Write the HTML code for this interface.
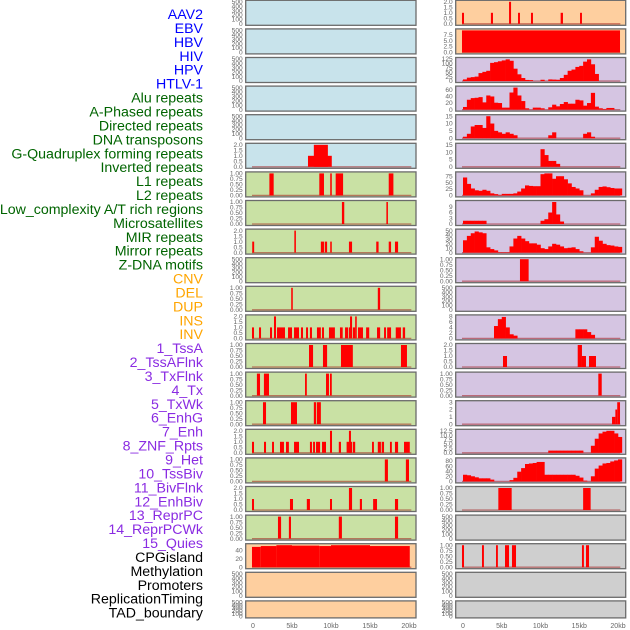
<!DOCTYPE html>
<html><head><meta charset="utf-8">
<style>
html,body{margin:0;padding:0;background:#fff;}
svg{display:block;font-family:"Liberation Sans",sans-serif;}
</style></head>
<body>
<svg id="chart" width="630" height="630" viewBox="0 0 630 630" xmlns="http://www.w3.org/2000/svg"></svg>
<script>
// ---------- data ----------
const trackLabels = ["AAV2","EBV","HBV","HIV","HPV","HTLV-1","Alu repeats","A-Phased repeats","Directed repeats","DNA transposons","G-Quadruplex forming repeats","Inverted repeats","L1 repeats","L2 repeats","Low_complexity A/T rich regions","Microsatellites","MIR repeats","Mirror repeats","Z-DNA motifs","CNV","DEL","DUP","INS","INV","1_TssA","2_TssAFlnk","3_TxFlnk","4_Tx","5_TxWk","6_EnhG","7_Enh","8_ZNF_Rpts","9_Het","10_TssBiv","11_BivFlnk","12_EnhBiv","13_ReprPC","14_ReprPCWk","15_Quies","CPGisland","Methylation","Promoters","ReplicationTiming","TAD_boundary"];
const labelGroups = [0,0,0,0,0,0,1,1,1,1,1,1,1,1,1,1,1,1,1,2,2,2,2,2,3,3,3,3,3,3,3,3,3,3,3,3,3,3,3,4,4,4,4,4];
const xTickValues = [0,5,10,15,20];
const xTickLabels = ["0","5kb","10kb","15kb","20kb"];

const ticksEmpty = ["0","100","200","300","400","500"];
const ticks2 = ["0.0","0.5","1.0","1.5","2.0"];
const ticks1 = ["0.00","0.25","0.50","0.75","1.00"];

// segment data: [startKb, endKb, value]
const segL05 = [[7.05,10.1,1],[7.8,9.6,2]];
const segL06 = [[2.1,2.65,1],[8.5,9.1,1],[9.9,10.1,1],[10.6,11.55,1],[17.4,18.0,1]];
const segL07 = [[11.4,11.7,1],[17.1,17.3,1]];
const segL08 = [[-0.1,0.15,1],[5.3,5.5,2],[8.7,9.1,1],[9.2,9.5,1],[9.9,10.1,1],[12.3,12.7,1],[15.8,16.1,1],[17.4,17.7,1],[18.2,18.6,1]];
const segL10 = [[4.9,5.1,1],[16.0,16.3,1]];
const segL11 = [[-0.13,0.13,1],[0.77,1.03,1],[2.18,2.44,1],[2.69,2.95,2],[3.08,4.1,1],[4.49,5.0,1],[5.26,5.9,1],[6.15,6.41,1],[6.8,7.05,1],[7.3,7.56,1],[8.2,8.7,1],[8.85,9.1,1],[9.74,10.5,1],[11.15,11.5,1],[11.8,12.2,1],[12.3,12.44,1],[12.44,12.7,2],[12.8,13.1,1],[13.1,13.3,2],[13.46,14.1,1],[14.5,14.9,1],[15.9,16.3,1],[16.8,17.05,1],[17.2,17.7,1],[18.3,18.97,1],[19.2,19.5,1]];
const segL12 = [[7.18,7.7,1],[8.97,9.5,1],[11.28,12.8,1],[18.97,19.74,1]];
const segL13 = [[0.5,0.9,1],[1.4,2.05,1],[6.67,6.9,1],[9.36,9.74,1],[9.87,10.1,1]];
const segL14 = [[1.28,1.67,1],[4.87,5.64,1],[7.8,8.1,1],[8.2,8.7,1]];
const segL15 = [[-0.13,0.13,1],[1.41,1.67,1],[2.44,2.69,1],[3.46,3.97,1],[4.23,4.6,1],[5.26,5.9,1],[7.3,7.56,1],[7.7,7.95,1],[8.08,8.6,1],[8.85,9.36,1],[9.87,10.13,2],[11.0,11.28,1],[12.0,12.7,1],[12.3,12.56,2],[12.8,13.1,1],[15.26,15.5,1],[16.0,16.4,1],[16.5,16.8,1],[17.56,17.8,1],[18.2,18.6,1],[19.36,20.1,1]];
const segL16 = [[16.9,17.3,1],[19.6,20.0,1]];
const segL17 = [[-0.13,0.13,1],[4.74,5.13,1],[6.9,7.3,1],[9.87,10.13,1],[12.3,12.7,2],[13.7,13.97,1],[15.4,15.9,1],[18.2,18.6,1]];
const segL18 = [[3.2,3.6,1],[4.6,4.87,1],[11.0,11.4,1],[18.2,18.6,1]];
const segL19 = [[-0.13,1,48],[1,3,50],[3,5,52],[5,8.5,51],[8.5,10,50],[10,15,52],[15,20.1,50]];

const segR00 = [[-0.13,0.13,1],[3.6,3.87,1],[5.94,6.2,2],[7.1,7.35,1],[8.77,9.03,1],[12.6,12.9,1],[15.1,15.35,1]];
const segR01 = [[-0.13,20.26,9.3]];
const segR09 = [[7.35,8.47,1]];
const segR12 = [[5.16,5.68,1],[14.8,15.35,2],[15.35,15.87,1],[16.26,17.16,1]];
const segR13 = [[17.46,17.9,1]];
const segR14 = [[19.23,19.66,1],[19.66,19.9,2],[19.9,20.26,3]];
const segR17 = [[4.56,6.28,1],[15.5,16.47,1]];
const segR19 = [[-0.13,0.13,1],[2.45,2.7,1],[4.26,4.5,1],[5.42,5.94,1],[6.32,6.84,1],[15.35,15.6,1],[15.87,16.26,1]];

// binned data: 0.5 kb bins starting at 0 kb
const binR02 = [9,19,22,25,45,52,58,103,107,112,117,123,115,70,38,17,6,5,0,0,7,0,9,8,7,17,35,58,65,80,86,110,123,95,40,0,0,0,0,0,0];
const binR03 = [8,30,35,36,38,22,43,40,21,20,6,6,52,67,43,26,4,0,6,6,4,0,7,15,10,17,23,18,18,30,28,12,20,51,9,4,2,5,5,0,0];
const binR04 = [1,3,8,9,9,7,15,10,5,4,3,4,3,2,0,0,0,0,0,0,0,0,2,4,0,0,0,0,0,0,0,3,4,1,0,0,0,0,0,0,0];
const binR05 = [0,0,0,0,0,0,0,0,0,0,0,0,0,0,0,0,0,0,0,0,12,8,4,4,2,0,0,0,0,0,0,0,0,0,0,0,0,0,0,0,0];
const binR06 = [70,45,27,20,18,22,18,8,5,2,6,6,6,8,15,27,39,37,36,36,83,86,86,65,75,75,63,47,33,27,20,0,0,8,22,33,35,32,29,27,27];
const binR07 = [1.7,1.7,1.7,1.7,1.7,1.7,0,0,0,0,0,0,0,0,0,0,0,0,0,0,1.7,2.5,6,11.5,5,1.3,0,0,0,0,0,0,0,0,0,0,0,0,0,0,0];
const binR08 = [28,38,44,48,46,44,12,8,5,1,1,1,14,32,38,32,26,21,21,18,10,8,14,20,18,14,10,11,12,8,3,0,0,12,36,27,20,17,16,14,13];
const binR11 = [0,0,0,0,0,0,0,0,4.5,7,7.8,4,1.5,1,0,0,0,0,0,0,0,0,0,0,0,0,0,0,0,3.3,3.3,3.3,2.3,1.3,0,0,0,0,0,0,0];
const binR15 = [0,0,0,0,0,0,0,0,0,0,0,0,0,0,0,0,0,0,0,0,0,0,1.25,1.25,1.25,1.25,1.25,1.25,1.25,1.25,1.25,0,0,4,8,11,12,12.5,12.5,11,9];
const binR16 = [26,24,20,16,12,12,12,7,0,0,0,0,5,14,38,52,68,70,72,76,76,26,26,26,26,26,26,26,26,22,15,3,0,20,50,62,70,72,78,82,86];

// ---------- layout / style config ----------
const colLeft = [245.7, 455.7], colRight = [416, 625.7];
const xOrigin = [253, 463], xPerKb = [7.8, 7.75];
const rowPitch = 28.6, rowH = 25, lastRowH = 17;
const bgColors = {blue:"#c8e3eb", green:"#c9e1a4", orange:"#fecf9f", purple:"#d5c5e2", gray:"#cfcfcf"};
const labelColors = ["#0000ff","#006400","#ffa500","#8a2be2","#000000"];

// panels: [column, row, bg, ticks, kind, data]
const panels = [
 [0,0,"blue",ticksEmpty,"empty",null],[0,1,"blue",ticksEmpty,"empty",null],[0,2,"blue",ticksEmpty,"empty",null],
 [0,3,"blue",ticksEmpty,"empty",null],[0,4,"blue",ticksEmpty,"empty",null],[0,5,"blue",ticks2,"seg",segL05],
 [0,6,"green",ticks1,"seg",segL06],[0,7,"green",ticks1,"seg",segL07],[0,8,"green",ticks2,"seg",segL08],
 [0,9,"green",ticksEmpty,"empty",null],[0,10,"green",ticks1,"seg",segL10],[0,11,"green",ticks2,"seg",segL11],
 [0,12,"green",ticks1,"seg",segL12],[0,13,"green",ticks1,"seg",segL13],[0,14,"green",ticks1,"seg",segL14],
 [0,15,"green",ticks2,"seg",segL15],[0,16,"green",ticks1,"seg",segL16],[0,17,"green",ticks2,"seg",segL17],
 [0,18,"green",ticks1,"seg",segL18],[0,19,"orange",["0","20","40"],"seg",segL19],
 [0,20,"orange",ticksEmpty,"empty",null],[0,21,"orange",ticksEmpty,"empty",null],
 [1,0,"orange",ticks2,"seg",segR00],[1,1,"orange",["0.0","2.5","5.0","7.5"],"seg",segR01],
 [1,2,"purple",["0","25","50","75","100","125"],"bin",binR02],[1,3,"purple",["0","20","40","60"],"bin",binR03],
 [1,4,"purple",["0","5","10","15"],"bin",binR04],[1,5,"purple",["0","5","10","15"],"bin",binR05],
 [1,6,"purple",["0","25","50","75"],"bin",binR06],[1,7,"purple",["0","3","6","9"],"bin",binR07],
 [1,8,"purple",["0","10","20","30","40","50"],"bin",binR08],[1,9,"purple",ticks1,"seg",segR09],
 [1,10,"purple",ticksEmpty,"empty",null],[1,11,"purple",["0","2","4","6","8"],"bin",binR11],
 [1,12,"purple",ticks2,"seg",segR12],[1,13,"purple",ticks1,"seg",segR13],
 [1,14,"purple",["0","1","2","3"],"seg",segR14],[1,15,"purple",["0.0","2.5","5.0","7.5","10.0","12.5"],"bin",binR15],
 [1,16,"purple",["0","20","40","60","80"],"bin",binR16],[1,17,"gray",ticks1,"seg",segR17],
 [1,18,"gray",ticksEmpty,"empty",null],[1,19,"gray",ticks1,"seg",segR19],
 [1,20,"gray",ticksEmpty,"empty",null],[1,21,"gray",ticksEmpty,"empty",null]
];

// ---------- drawing ----------
const NS = "http://www.w3.org/2000/svg";
const svg = document.getElementById("chart");
function mk(tag, attrs, parent) {
  const e = document.createElementNS(NS, tag);
  for (const k in attrs) e.setAttribute(k, attrs[k]);
  (parent || svg).appendChild(e);
  return e;
}
function xScale(col, kb) { return xOrigin[col] + xPerKb[col] * kb; }

// track labels
trackLabels.forEach((t, i) => {
  const el = mk("text", {x: 203, y: 15.3 + 13.92 * i, "text-anchor": "end", "dominant-baseline": "middle", "font-size": 14.2, fill: labelColors[labelGroups[i]]});
  
  
  el.textContent = t;
});

panels.forEach(p => {
  const [col, row, bg, ticks, kind, data] = p;
  const top = 0.3 + rowPitch * row;
  const h = row === 21 ? lastRowH : rowH;
  const x0 = colLeft[col], x1 = colRight[col];
  const g = mk("g", {});
  
  
  const bgRect = mk("rect", {x: x0, y: top, width: x1 - x0, height: h, fill: bgColors[bg], stroke: "#6b6b6b", "stroke-width": 1.3}, g);
  
  
  const dTop = top + 1.5, dBot = top + h - 1.5;
  const tickNums = ticks.map(Number);
  let maxVal = tickNums[tickNums.length - 1];
  if (kind === "seg") data.forEach(s => { if (s[2] > maxVal) maxVal = s[2]; });
  if (kind === "bin") data.forEach(v => { if (v > maxVal) maxVal = v; });
  const yS = v => dBot - v / maxVal * (dBot - dTop);
  ticks.forEach((t, i) => {
    const tl = mk("text", {x: x0 - 3, y: yS(tickNums[i]) + 2.2, "text-anchor": "end", "font-size": 6.6, fill: "#666"}, g);
    
    
    tl.textContent = t;
  });
  if (kind === "empty") return;
  const bl = mk("line", {x1: xScale(col, -0.13), x2: xScale(col, 20.3), y1: dBot, y2: dBot, stroke: "#a01010", "stroke-opacity": 0.5, "stroke-width": 1.3}, g);
  
  
  if (kind === "seg") {
    data.forEach(s => {
      const xa = xScale(col, s[0]), xb = xScale(col, s[1]);
      const r = mk("rect", {x: xa, y: yS(s[2]), width: Math.max(1.2, xb - xa), height: dBot - yS(s[2]), fill: "#ff0000"}, g);
      
      
    });
  } else {
    data.forEach((v, i) => {
      if (v <= 0) return;
      const xa = xScale(col, i * 0.5), xb = xScale(col, (i + 1) * 0.5);
      const r = mk("rect", {x: xa, y: yS(v), width: xb - xa + 0.3, height: dBot - yS(v), fill: "#ff0000"}, g);
      
      
    });
  }
});

// x axis tick labels
[0, 1].forEach(col => {
  xTickValues.forEach((v, i) => {
    const t = mk("text", {x: xScale(col, v), y: 628, "text-anchor": "middle", "font-size": 7, fill: "#666"});
    
    
    t.textContent = xTickLabels[i];
  });
});
</script>
</body></html>
